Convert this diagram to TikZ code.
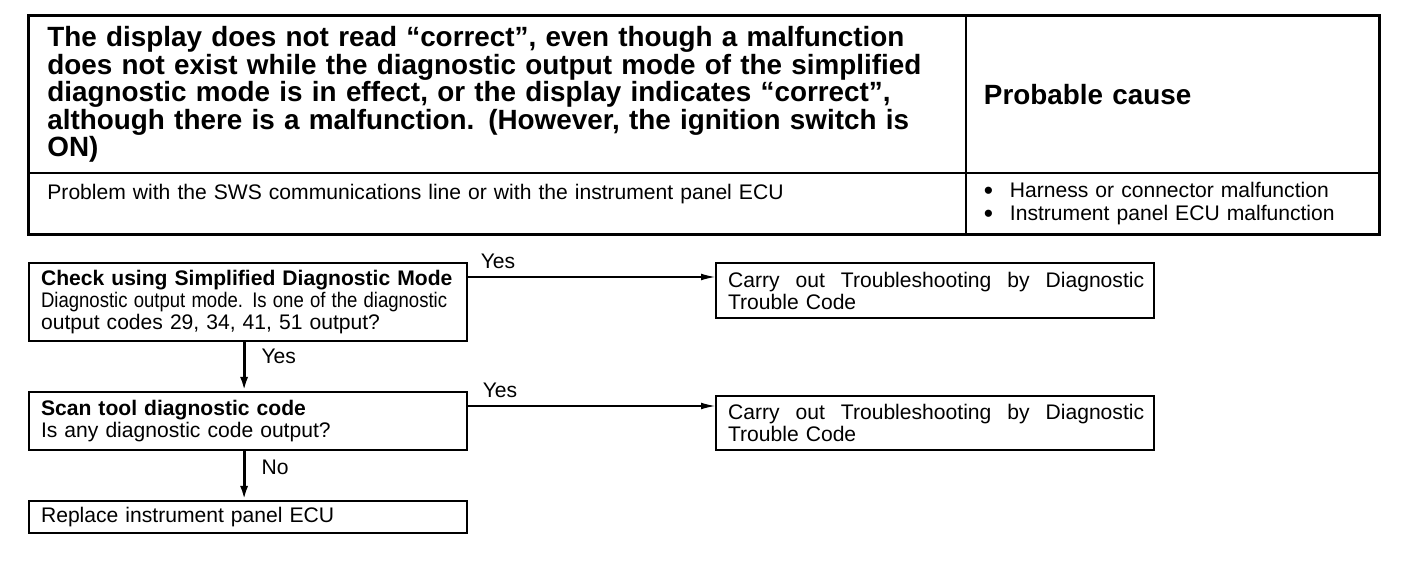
\documentclass[tikz,border=0pt]{standalone}
\usepackage{fontspec}
\usepackage{graphicx}
\setmainfont{Liberation Sans}
\usetikzlibrary{positioning,arrows.meta}
\newcommand{\headsize}{\fontsize{19.8}{19.6}\selectfont}
\newcommand{\bodysize}{\fontsize{15}{16.4}\selectfont}
\newcommand{\boxsize}{\fontsize{15}{15.7}\selectfont}
\newcommand{\bigdot}{\makebox[0.65cm][l]{\raisebox{-0.08em}[0pt][0pt]{\scalebox{1.25}{•}}}}
\newcommand{\carrytext}{\makebox[10.4cm]{Carry\hfill out\hfill Troubleshooting\hfill by\hfill Diagnostic}\\Trouble Code}

\begin{document}
\begin{tikzpicture}[x=0.025cm, y=-0.025cm,
    cell/.style={rectangle, draw, line width=1.3pt, anchor=north west, align=left, inner xsep=0.45cm, inner ysep=0pt},
    headcell/.style={cell, font=\headsize\bfseries, minimum height=3.925cm},
    rowcell/.style={cell, font=\bodysize, minimum height=1.525cm},
    stepbox/.style={rectangle, draw, line width=1.5pt, anchor=north west, align=left, inner xsep=0.3cm, inner ysep=0pt,
        font=\boxsize, text width=10.35cm, minimum width=10.95cm},
    arrow/.style={-{Latex[length=0.35cm, width=0.17cm]}, line width=0.8pt},
    varrow/.style={-{Latex[length=0.35cm, width=0.2cm]}, line width=2pt},
    lbl/.style={font=\bodysize, inner sep=0pt}
]
\useasboundingbox[fill=white] (0,0) rectangle (1408,582);

% Table
\node[headcell, text width=22.5cm, minimum width=23.425cm] (symptom) at (28,15)
    {The display does not read “correct”, even though a malfunction\\
     does not exist while the diagnostic output mode of the simplified\\
     diagnostic mode is in effect, or the display indicates “correct”,\\
     although there is a malfunction. (However, the ignition switch is\\
     ON)};
\node[headcell, text width=9.425cm, minimum width=10.325cm] (cause) at (965,15) {Probable cause};
\node[rowcell, text width=22.5cm, minimum width=23.425cm] (problem) at (28,172)
    {Problem with the SWS communications line or with the instrument panel ECU\\ \mbox{}};
\node[rowcell, text width=9.425cm, minimum width=10.325cm] (causes) at (965,172)
    {\bigdot Harness or connector malfunction\\
     \bigdot Instrument panel ECU malfunction};
\draw[line width=2pt] (symptom.north west) rectangle (causes.south east);

% Flow boxes
\node[stepbox, minimum height=1.95cm] (check) at (28,262)
    {\textbf{Check using Simplified Diagnostic Mode}\\
     \resizebox{10.15cm}{\height}{Diagnostic output mode. Is one of the diagnostic}\\
     output codes 29, 34, 41, 51 output?};
\node[stepbox, minimum height=1.45cm] (scan) at (28,391)
    {\textbf{Scan tool diagnostic code}\\
     Is any diagnostic code output?};
\node[stepbox, minimum height=0.8cm] (replace) at (28,500) {Replace instrument panel ECU};
\node[stepbox, minimum height=1.375cm] (carry1) at (715,262) {\carrytext};
\node[stepbox, minimum height=1.35cm] (carry2) at (715,395) {\carrytext};

% Arrows
\coordinate (checkout) at ([yshift=-0.375cm]check.north east);
\coordinate (scanout) at ([yshift=-0.375cm]scan.north east);
\draw[arrow] (checkout) -- (checkout -| carry1.west)
    node[lbl, pos=0, anchor=south west, xshift=0.3cm, yshift=0.2cm] (yes1) {Yes};
\draw[arrow] (scanout) -- (scanout -| carry2.west)
    node[lbl, pos=0, anchor=south west, xshift=0.35cm, yshift=0.2cm] (yes2) {Yes};
\draw[varrow] ([xshift=-0.1cm]check.south) -- ([xshift=-0.1cm]scan.north) node[lbl, pos=0.3, right=0.4cm] (yes3) {Yes};
\draw[varrow] ([xshift=-0.1cm]scan.south) -- ([xshift=-0.1cm]replace.north) node[lbl, pos=0.33, right=0.4cm] (no1) {No};
\end{tikzpicture}
\end{document}
